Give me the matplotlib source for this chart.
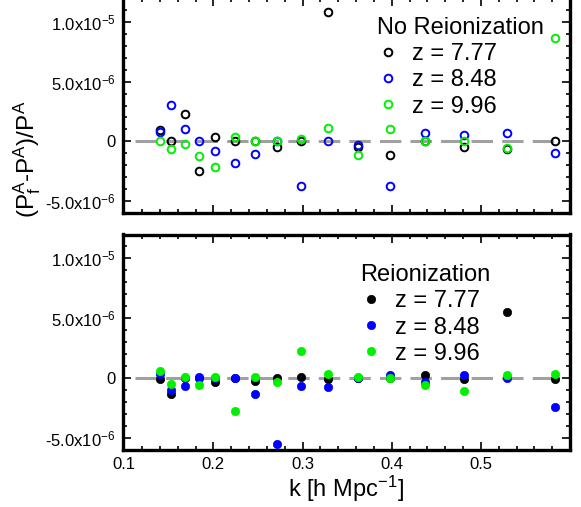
import numpy as np
import matplotlib
matplotlib.use('Agg')
import matplotlib.pyplot as plt
import matplotlib.ticker as mtick

plt.rcParams['font.family'] = ['Liberation Sans', 'DejaVu Sans']
plt.rcParams['mathtext.fontset'] = 'custom'
plt.rcParams['mathtext.rm'] = 'Liberation Sans'
plt.rcParams['mathtext.it'] = 'Liberation Sans'
plt.rcParams['mathtext.default'] = 'regular'

# wavenumbers [h/Mpc]
k = [0.1406, 0.1522, 0.1682, 0.1840, 0.2019, 0.2244, 0.2468, 0.2715,
     0.2978, 0.3287, 0.3617, 0.3980, 0.4372, 0.4810, 0.5296, 0.5832]

redshifts = ['7.77', '8.48', '9.96']
colors = ['black', '#0000ff', '#00f000']
xticks = [0.1, 0.2, 0.3, 0.4, 0.5]

# (P^A_f - P^A)/P^A, in units of 1e-6
noreion = [
    [0.95, 0.0, 2.32, -2.51, 0.36, 0.0, 0.0, -0.45, 0.0, 10.86, -0.50, -1.17, 0.0, -0.45, -0.67, 0.0],
    [0.80, 3.04, 1.00, 0.0, -0.78, -1.79, -1.09, 0.0, -3.71, 0.0, -0.33, -3.71, 0.67, 0.53, 0.67, -1.00],
    [0.0, -0.64, -0.22, -1.26, -2.12, 0.39, 0.0, 0.0, 0.17, 1.15, -1.17, 1.06, 0.0, 0.05, -0.53, 8.66],
]
reion = [
    [-0.10, -1.30, 0.0, 0.0, -0.34, 0.0, -0.25, 0.0, 0.10, -0.06, 0.0, 0.0, 0.28, -0.06, 5.51, -0.06],
    [0.37, -0.99, -0.65, 0.08, 0.0, 0.0, -1.36, -5.51, -0.65, -0.73, 0.0, 0.23, -0.34, 0.28, 0.0, -2.40],
    [0.59, -0.45, 0.08, -0.59, 0.08, -2.71, 0.08, -0.31, 2.26, 0.31, 0.08, 0.0, -0.57, -1.10, 0.25, 0.31],
]

W, H = 581, 507
fig = plt.figure(figsize=(W / 100, H / 100), dpi=100)

def px_axes(l, t, r, b):
    return fig.add_axes([l / W, 1 - b / H, (r - l) / W, (b - t) / H])

ax1 = px_axes(122.5, -2, 570, 213)
ax2 = px_axes(122.5, 234.5, 570, 450)

def yfmt(v, pos):
    if abs(v) < 1e-12:
        return '0'
    e = int(np.floor(np.log10(abs(v))))
    m = v / 10**e
    return r'%.1fx10$^{%d}$' % (m, e)

for ax in (ax1, ax2):
    ax.set_xlim(0.098, 0.6)
    ax.set_ylim(-6e-6, 1.2e-5)
    ax.xaxis.set_major_locator(mtick.FixedLocator(xticks))
    ax.xaxis.set_minor_locator(mtick.MultipleLocator(0.02))
    ax.yaxis.set_major_locator(mtick.MultipleLocator(5e-6))
    ax.yaxis.set_minor_locator(mtick.MultipleLocator(1e-6))
    ax.yaxis.set_major_formatter(mtick.FuncFormatter(yfmt))
    ax.tick_params(which='both', direction='in', top=True, right=True, width=1.2)
    ax.tick_params(which='major', length=6, labelsize=12, pad=5)
    ax.tick_params(which='minor', length=3)
    for s in ax.spines.values():
        s.set_linewidth(2.4)
    ax.plot([0.112, 0.589], [0, 0], color='#a0a0a0', lw=2.2, dashes=(7, 3), zorder=1)

ax1.tick_params(labelbottom=False)

for vals, c, z in zip(noreion, colors, redshifts):
    ax1.plot(k, np.array(vals) * 1e-6, 'o', ls='none', mfc='none', mec=c, ms=5.5, mew=1.4,
             label='z = ' + z, zorder=3)
for vals, c, z in zip(reion, colors, redshifts):
    ax2.plot(k, np.array(vals) * 1e-6, 'o', ls='none', mfc=c, mec=c, ms=6, mew=0.5,
             label='z = ' + z, zorder=3)

leg_kw = dict(loc='upper left', frameon=False, fontsize=17, title_fontsize=17,
              alignment='left', handlelength=0.9, handletextpad=0.6, labelspacing=0.18,
              borderpad=0, borderaxespad=0, numpoints=1)
ax1.legend(title='No Reionization', bbox_to_anchor=(377 / W, 1 - 17 / H),
           bbox_transform=fig.transFigure, **leg_kw)
ax2.legend(title='Reionization', bbox_to_anchor=(360 / W, 1 - 264 / H),
           bbox_transform=fig.transFigure, **leg_kw)

ax2.set_xlabel(r'k [h Mpc$^{-1}$]', fontsize=17, labelpad=1)
fig.text(27 / W, 1 - 159 / H, r'(P$^{A}_{f}$-P$^{A}$)/P$^{A}$', rotation=90,
         ha='center', va='center', fontsize=17.5)

fig.savefig('out.png', dpi=100)
